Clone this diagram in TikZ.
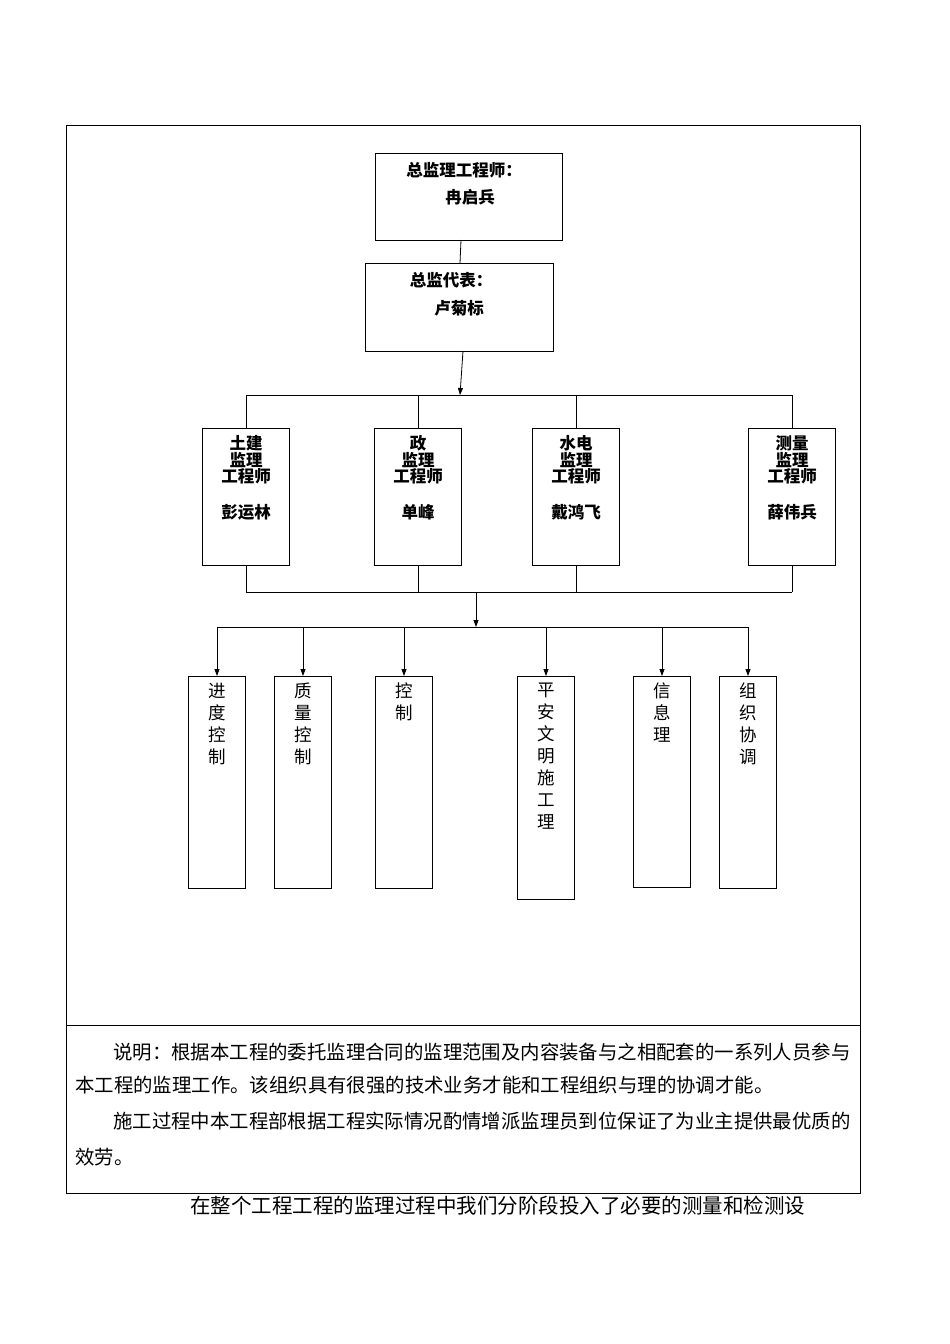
\documentclass[tikz,border=0pt]{standalone}
\usepackage{fontspec}
\setmainfont{Noto Sans CJK SC}
\usetikzlibrary{arrows.meta}
\begin{document}
\begin{tikzpicture}[x=1pt,y=-1pt,
 bx/.style={draw,line width=0.8pt},
 ln/.style={line width=0.8pt},
 ar/.style={line width=0.8pt,-{Triangle[length=7pt,width=5pt]}},
 t/.style={font=\fontsize{16.5}{18}\selectfont\bfseries,inner sep=0pt},
 v/.style={font=\fontsize{17.5}{22}\selectfont,inner sep=0pt,align=center,anchor=north},
 p/.style={font=\fontsize{19.4}{21}\selectfont,inner sep=0pt,anchor=west}]
\useasboundingbox (0,0) rectangle (950,1344);
\draw[ln] (66,125) rectangle (860,1193);
\draw[ln] (66,1025) -- (860,1025);
\node[bx,minimum width=187,minimum height=87] (b1) at (468.5,196.5) {};
\node[t] at (464,170) {总监理工程师：};
\node[t] at (470,197) {冉启兵};
\node[bx,minimum width=188,minimum height=88] (b2) at (459,307) {};
\node[t] at (451,280) {总监代表：};
\node[t] at (459,308) {卢菊标};
\draw[ln] (461,240) -- (460,263);
\draw[ar] (463,351) -- (460,395);
\draw[ln] (246,395) -- (792,395);
\foreach \n/\x/\a/\b/\c/\d in {m1/246/土建/监理/工程师/彭运林, m2/418/政/监理/工程师/单峰, m3/576/水电/监理/工程师/戴鸿飞, m4/792/测量/监理/工程师/薛伟兵}{
 \node[bx,minimum width=87,minimum height=137] (\n) at (\x,496.5) {};
 \draw[ln] (\x,395) -- (\n.north);
 \draw[ln] (\n.south) -- (\x,592);
 \node[t] at (\x,443) {\a};
 \node[t] at (\x,460) {\b};
 \node[t] at (\x,476) {\c};
 \node[t] at (\x,512) {\d};
}
\draw[ln] (246,592) -- (792,592);
\coordinate (c1) at (476,592);
\coordinate (c2) at (476,627);
\draw[ar] (c1) -- (c2);
\draw[ln] (217,627) -- (748,627);
\foreach \n/\x/\h/\s in {s1/217/212/进\\度\\控\\制, s2/303/212/质\\量\\控\\制, s3/404/212/控\\制, s4/546/223/平\\安\\文\\明\\施\\工\\理, s5/662/211/信\\息\\理, s6/748/212/组\\织\\协\\调}{
 \node[bx,minimum width=57,minimum height=\h,anchor=north] (\n) at (\x,676) {};
 \draw[ar] (\x,627) -- (\n.north);
 \node[v] at (\x,683) {\s};
}
\node[p] at (113,1052) {说明：根据本工程的委托监理合同的监理范围及内容装备与之相配套的一系列人员参与};
\node[p] at (75,1085) {本工程的监理工作。该组织具有很强的技术业务才能和工程组织与理的协调才能。};
\node[p] at (113,1121) {施工过程中本工程部根据工程实际情况酌情增派监理员到位保证了为业主提供最优质的};
\node[p] at (75,1157) {效劳。};
\node[p,font=\fontsize{20.5}{22}\selectfont] at (190,1206) {在整个工程工程的监理过程中我们分阶段投入了必要的测量和检测设};
\end{tikzpicture}
\end{document}
